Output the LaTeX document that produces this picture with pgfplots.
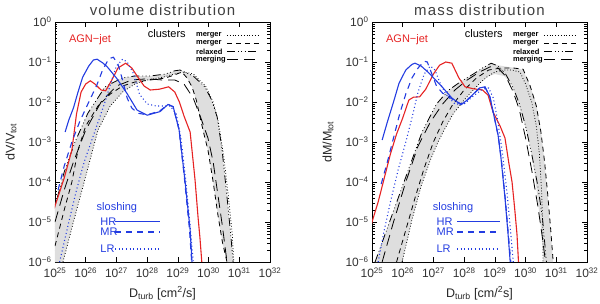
\documentclass[border=0pt]{standalone}
\usepackage{pgfplots}
\pgfplotsset{compat=1.18}
\usepackage{fontspec}
\setmainfont{Liberation Sans}
\definecolor{cblue}{RGB}{35,60,225}
\definecolor{cred}{RGB}{230,35,35}
\definecolor{band}{RGB}{222,222,222}
\tikzset{
 cl1/.style={black, line width=0.8pt, dash pattern=on 0.8pt off 2pt},
 cl2/.style={black, line width=0.8pt, dash pattern=on 5pt off 4pt},
 cl3/.style={black, line width=0.8pt, dash pattern=on 8pt off 3pt on 0.8pt off 2.5pt on 0.8pt off 2.5pt on 0.8pt off 3pt},
 cl4/.style={black, line width=0.8pt, dash pattern=on 11pt off 6pt},
 hr/.style={cblue, line width=1.1pt},
 mr/.style={cblue, line width=1.1pt, dash pattern=on 6pt off 5pt},
 lr/.style={cblue, line width=1.1pt, dash pattern=on 1pt off 2.6pt},
 agn/.style={cred, line width=1.1pt},
}
\newcommand{\sups}[1]{\textsuperscript{#1}}
\pgfplotsset{panel/.style={
 scale only axis, width=215pt, height=240pt,
 xmin=25, xmax=32, ymin=-6, ymax=0,
 xtick={25,26,27,28,29,30,31,32},
 xticklabels={10\sups{25},10\sups{26},10\sups{27},10\sups{28},10\sups{29},10\sups{30},10\sups{31},10\sups{32}},
 ytick={-6,-5,-4,-3,-2,-1,0},
 yticklabels={10\sups{−6},10\sups{−5},10\sups{−4},10\sups{−3},10\sups{−2},10\sups{−1},10\sups{0}},
 minor ytick={-5.699,-5.523,-5.398,-5.301,-5.222,-5.155,-5.097,-5.046,
  -4.699,-4.523,-4.398,-4.301,-4.222,-4.155,-4.097,-4.046,
  -3.699,-3.523,-3.398,-3.301,-3.222,-3.155,-3.097,-3.046,
  -2.699,-2.523,-2.398,-2.301,-2.222,-2.155,-2.097,-2.046,
  -1.699,-1.523,-1.398,-1.301,-1.222,-1.155,-1.097,-1.046,
  -0.699,-0.523,-0.398,-0.301,-0.222,-0.155,-0.097,-0.046},
 major tick length=5pt, minor tick length=2.5pt,
 tick style={black, line width=0.5pt},
 axis line style={line width=0.6pt},
 tick label style={font=\fontsize{12}{13}\selectfont, text=black!80},
 xticklabel style={yshift=-2pt},
 xlabel style={font=\fontsize{12.5}{14}\selectfont, at={(axis description cs:0.5,-0.13)}, anchor=center, text=black!85},
 ylabel style={font=\fontsize{12.5}{14}\selectfont, at={(axis description cs:-0.205,0.5)}, anchor=center, text=black!85},
 clip mode=individual,
}}
\newcommand{\legendblock}[3]{%
 \node[font=\fontsize{15}{17}\selectfont\addfontfeature{LetterSpace=8}, text=black!75] at (rel axis cs:0.5,1.05) {#3};
 \node[font=\fontsize{11}{12}\selectfont] at (rel axis cs:0.52,0.95) {clusters};
 \node[anchor=west, font=\bfseries\fontsize{7.5}{8}\selectfont] at (rel axis cs:0.64,0.946) {merger};
 \node[anchor=west, font=\bfseries\fontsize{7.5}{8}\selectfont] at (rel axis cs:0.64,0.912) {merger};
 \node[anchor=west, font=\bfseries\fontsize{7.5}{8}\selectfont] at (rel axis cs:0.64,0.877) {relaxed};
 \node[anchor=west, font=\bfseries\fontsize{7.5}{8}\selectfont] at (rel axis cs:0.64,0.843) {merging};
 \draw[cl1] (rel axis cs:0.80,0.946) -- (rel axis cs:0.95,0.946);
 \draw[cl2] (rel axis cs:0.80,0.912) -- (rel axis cs:0.95,0.912);
 \draw[cl3] (rel axis cs:0.80,0.877) -- (rel axis cs:0.95,0.877);
 \draw[cl4] (rel axis cs:0.80,0.843) -- (rel axis cs:0.95,0.843);
 \node[text=cred, font=\fontsize{11}{12}\selectfont] at (rel axis cs:0.163,0.925) {AGN−jet};
 \node[text=cblue, font=\fontsize{11}{12}\selectfont] at (rel axis cs:#1,0.225) {sloshing};
 \node[text=cblue, anchor=west, font=\fontsize{11}{12}\selectfont] at (rel axis cs:#2,0.167) {HR};
 \node[text=cblue, anchor=west, font=\fontsize{11}{12}\selectfont] at (rel axis cs:#2,0.125) {MR};
 \node[text=cblue, anchor=west, font=\fontsize{11}{12}\selectfont] at (rel axis cs:#2,0.054) {LR};
}
\begin{document}
\begin{tikzpicture}
\useasboundingbox (0,0) rectangle (600pt,303pt);
% ---------------- volume distribution ----------------
\begin{axis}[panel, at={(55pt,41pt)}, anchor=south west,
 xlabel={D\textsubscript{turb} [cm\textsuperscript{2}/s]},
 ylabel={dV/V\textsubscript{tot}}]
\addplot[fill=band, draw=none] coordinates {
 (24.9,-6) (25.0,-4.6) (25.3,-3.75) (25.65,-3.0) (26.07,-2.28) (26.63,-1.62) (27.18,-1.4) (27.6,-1.35) (28.1,-1.35) (28.6,-1.3) (28.9,-1.22) (29.07,-1.2) (29.5,-1.35) (29.88,-1.62) (30.1,-1.95) (30.28,-2.37) (30.44,-3.2) (30.6,-4.37) (30.72,-5.3) (30.8,-6)
 (30.6,-6) (30.45,-5.5) (30.3,-4.8) (30.15,-4.0) (29.98,-3.2) (29.85,-2.8) (29.72,-2.37) (29.6,-1.95) (29.46,-1.62) (29.3,-1.4) (29.13,-1.25) (28.9,-1.3) (28.5,-1.4) (28.0,-1.45) (27.6,-1.55) (27.2,-1.75) (26.8,-2.1) (26.4,-2.7) (25.95,-4.0) (25.6,-5.0) (25.26,-6)
} -- cycle;
% merger dotted
\addplot[cl1] coordinates {(25.26,-6) (25.6,-5.0) (25.95,-4.0) (26.4,-2.7) (26.8,-2.1) (27.2,-1.75) (27.6,-1.55) (28.0,-1.45) (28.5,-1.38) (28.9,-1.3) (29.2,-1.25) (29.5,-1.3) (29.9,-1.6) (30.15,-2.0) (30.32,-2.5) (30.5,-3.4) (30.65,-4.4) (30.77,-5.3) (30.82,-6)};
% merger dashed
\addplot[cl2] coordinates {(25.0,-5.6) (25.3,-4.7) (25.55,-4.0) (25.75,-3.2) (26.0,-2.6) (26.4,-2.1) (26.8,-1.8) (27.2,-1.6) (27.6,-1.5) (28.1,-1.45) (28.6,-1.4) (28.9,-1.32) (29.13,-1.25) (29.3,-1.4) (29.46,-1.62) (29.6,-1.95) (29.72,-2.37) (29.85,-2.8) (29.98,-3.2) (30.15,-4.0) (30.3,-4.8) (30.45,-5.5) (30.6,-6)};
% relaxed dash-dot
\addplot[cl3] coordinates {(24.9,-4.9) (25.0,-4.6) (25.3,-3.75) (25.65,-3.0) (26.07,-2.28) (26.63,-1.62) (27.18,-1.4) (27.6,-1.35) (28.1,-1.35) (28.6,-1.3) (28.9,-1.22) (29.07,-1.2) (29.5,-1.35) (29.88,-1.62) (30.1,-1.95) (30.28,-2.37) (30.44,-3.2) (30.6,-4.37) (30.72,-5.3) (30.8,-6)};
% merging long dash
\addplot[cl4] coordinates {(25.0,-5.0) (25.3,-4.2) (25.6,-3.5) (26.0,-2.7) (26.5,-2.0) (27.0,-1.6) (27.5,-1.45) (28.0,-1.42) (28.5,-1.45) (28.9,-1.45) (29.2,-1.55) (29.5,-1.9) (29.75,-2.4) (29.98,-2.9) (30.15,-3.5) (30.3,-4.3) (30.45,-5.1) (30.6,-6)};
% AGN jet
\addplot[agn] coordinates {(24.9,-4.9) (25.0,-4.6) (25.3,-3.9) (25.55,-3.2) (25.7,-2.3) (25.85,-1.75) (26.0,-1.55) (26.15,-1.47) (26.3,-1.55) (26.5,-1.7) (26.65,-1.72) (26.85,-1.45) (27.05,-1.15) (27.3,-1.03) (27.5,-1.15) (27.7,-1.38) (27.9,-1.6) (28.1,-1.7) (28.4,-1.68) (28.7,-1.62) (28.9,-1.75) (29.05,-2.0) (29.2,-2.35) (29.4,-2.75) (29.56,-3.95) (29.66,-4.9) (29.72,-5.4) (29.78,-6)};
% sloshing
\addplot[lr] coordinates {(25.15,-6) (25.3,-5.5) (25.45,-5.0) (25.7,-4.2) (25.95,-3.5) (26.2,-2.95) (26.45,-2.4) (26.65,-1.95) (26.85,-1.45) (27.0,-1.1) (27.2,-0.93) (27.35,-1.0) (27.55,-1.28) (27.75,-1.8) (28.0,-2.05) (28.3,-2.1) (28.75,-2.1) (28.95,-2.3) (29.1,-2.9) (29.25,-3.9) (29.4,-5.1) (29.5,-6)};
\addplot[mr] coordinates {(25.1,-4.2) (25.3,-3.6) (25.55,-3.0) (25.8,-2.5) (26.1,-2.0) (26.35,-1.6) (26.55,-1.2) (26.75,-0.92) (26.9,-0.88) (27.05,-1.05) (27.2,-1.45) (27.35,-1.9) (27.5,-2.15) (27.7,-2.28) (28.0,-2.32) (28.4,-2.23) (28.68,-2.06) (28.85,-2.12) (29.04,-2.7) (29.2,-3.8) (29.38,-5.2) (29.45,-6)};
\addplot[hr] coordinates {(25.33,-2.75) (25.45,-2.45) (25.6,-2.15) (25.75,-1.75) (25.9,-1.38) (26.1,-1.1) (26.25,-0.95) (26.37,-0.93) (26.55,-1.02) (26.7,-1.12) (27.0,-1.4) (27.34,-1.78) (27.67,-2.2) (28.0,-2.33) (28.42,-2.24) (28.68,-2.06) (28.85,-2.12) (29.04,-2.7) (29.23,-3.95) (29.4,-5.2) (29.46,-6)};
\legendblock{0.288}{0.195}{volume distribution}
\draw[hr] (rel axis cs:0.28,0.167) -- (rel axis cs:0.49,0.167);
\draw[mr] (rel axis cs:0.28,0.125) -- (rel axis cs:0.49,0.125);
\draw[lr] (rel axis cs:0.28,0.054) -- (rel axis cs:0.49,0.054);
\end{axis}
% ---------------- mass distribution ----------------
\begin{axis}[panel, at={(372pt,41pt)}, anchor=south west,
 xlabel={D\textsubscript{turb} [cm/\textsuperscript{2}s]},
 ylabel={dM/M\textsubscript{tot}}]
\addplot[fill=band, draw=none] coordinates {
 (25.1,-6) (25.5,-5.15) (25.9,-4.3) (26.3,-3.45) (26.63,-2.75) (27.1,-2.05) (27.5,-1.7) (27.87,-1.5) (28.3,-1.3) (28.6,-1.15) (28.88,-1.03) (29.1,-1.08) (29.4,-1.12) (29.7,-1.15) (29.92,-1.2) (30.15,-1.6) (30.35,-2.05) (30.5,-2.7) (30.6,-3.4) (30.7,-4.2) (30.8,-5.1) (30.9,-6)
 (30.58,-6) (30.52,-5.3) (30.42,-4.6) (30.3,-3.8) (30.15,-3.1) (29.95,-2.5) (29.75,-2.0) (29.55,-1.55) (29.3,-1.35) (29.0,-1.3) (28.75,-1.37) (28.55,-1.5) (28.3,-1.7) (28.0,-1.95) (27.64,-2.3) (27.35,-2.7) (27.15,-3.0) (26.9,-3.45) (26.6,-4.1) (26.3,-4.95) (25.98,-6)
} -- cycle;
\addplot[cl1] coordinates {(25.98,-6) (26.3,-4.95) (26.6,-4.1) (26.9,-3.45) (27.15,-3.0) (27.35,-2.7) (27.64,-2.3) (28.0,-1.95) (28.3,-1.7) (28.55,-1.5) (28.75,-1.37) (29.0,-1.25) (29.27,-1.2) (29.55,-1.2) (29.82,-1.25) (30.0,-1.55) (30.2,-2.0) (30.35,-2.6) (30.45,-3.3) (30.52,-4.2) (30.56,-5.1) (30.57,-6)};
\addplot[cl2] coordinates {(25.8,-6) (26.1,-5.2) (26.4,-4.4) (26.7,-3.65) (27.0,-3.0) (27.3,-2.5) (27.6,-2.1) (28.0,-1.7) (28.4,-1.4) (28.8,-1.2) (29.2,-1.15) (29.6,-1.15) (29.92,-1.18) (30.15,-1.6) (30.35,-2.1) (30.5,-2.75) (30.62,-3.5) (30.72,-4.3) (30.82,-5.2) (30.9,-6)};
\addplot[cl3] coordinates {(25.1,-6) (25.5,-5.15) (25.9,-4.3) (26.3,-3.45) (26.63,-2.75) (27.1,-2.05) (27.5,-1.7) (27.87,-1.5) (28.3,-1.3) (28.6,-1.15) (28.88,-1.03) (29.1,-1.1) (29.35,-1.3) (29.6,-1.65) (29.8,-2.05) (30.0,-2.6) (30.2,-3.3) (30.4,-4.1) (30.55,-4.9) (30.68,-6)};
\addplot[cl4] coordinates {(25.33,-6) (25.7,-5.0) (26.1,-4.0) (26.5,-3.1) (26.9,-2.5) (27.3,-2.05) (27.7,-1.7) (28.1,-1.45) (28.5,-1.25) (28.85,-1.12) (29.1,-1.15) (29.35,-1.35) (29.6,-1.75) (29.8,-2.2) (30.0,-2.9) (30.2,-3.7) (30.4,-4.6) (30.55,-5.4) (30.65,-6)};
\addplot[agn] coordinates {(24.9,-5.3) (25.0,-5.0) (25.2,-4.5) (25.4,-3.9) (25.6,-3.3) (25.8,-2.8) (26.0,-2.4) (26.2,-1.95) (26.35,-1.88) (26.55,-1.87) (26.75,-1.68) (27.0,-1.3) (27.2,-1.08) (27.4,-1.0) (27.6,-1.03) (27.83,-1.4) (28.03,-1.62) (28.3,-1.67) (28.6,-1.7) (28.78,-1.83) (28.94,-2.25) (29.17,-2.6) (29.33,-2.9) (29.45,-3.5) (29.56,-4.0) (29.65,-4.7) (29.72,-5.3) (29.77,-6)};
\addplot[lr] coordinates {(25.2,-6) (25.4,-5.2) (25.6,-4.5) (25.85,-3.7) (26.1,-3.0) (26.3,-2.4) (26.5,-1.75) (26.7,-1.3) (26.9,-1.1) (27.05,-1.2) (27.2,-1.5) (27.4,-1.8) (27.7,-2.05) (28.0,-2.05) (28.3,-1.85) (28.6,-1.68) (28.8,-1.65) (28.95,-1.9) (29.1,-2.5) (29.25,-3.3) (29.4,-4.3) (29.52,-5.3) (29.6,-6)};
\addplot[mr] coordinates {(25.3,-4.05) (25.5,-3.5) (25.7,-2.9) (25.9,-2.3) (26.1,-1.8) (26.3,-1.4) (26.5,-1.15) (26.7,-0.98) (26.8,-1.0) (26.95,-1.3) (27.1,-1.6) (27.3,-1.78) (27.6,-1.92) (27.9,-2.05) (28.1,-1.95) (28.3,-1.8) (28.5,-1.66) (28.68,-1.63) (28.84,-1.88) (29.0,-2.45) (29.12,-2.9) (29.22,-3.5) (29.35,-4.5) (29.45,-5.4) (29.52,-6)};
\addplot[hr] coordinates {(25.33,-2.95) (25.5,-2.5) (25.7,-2.0) (25.88,-1.53) (26.1,-1.2) (26.3,-1.06) (26.4,-1.03) (26.6,-1.1) (26.86,-1.28) (27.28,-1.62) (27.6,-1.9) (27.9,-2.07) (28.1,-1.95) (28.3,-1.8) (28.5,-1.65) (28.68,-1.62) (28.84,-1.87) (29.0,-2.45) (29.1,-2.8) (29.2,-3.4) (29.33,-4.4) (29.43,-5.3) (29.5,-6)};
\legendblock{0.377}{0.284}{mass distribution}
\draw[hr] (rel axis cs:0.395,0.167) -- (rel axis cs:0.595,0.167);
\draw[mr] (rel axis cs:0.395,0.125) -- (rel axis cs:0.595,0.125);
\draw[lr] (rel axis cs:0.395,0.054) -- (rel axis cs:0.595,0.054);
\end{axis}
\end{tikzpicture}
\end{document}
